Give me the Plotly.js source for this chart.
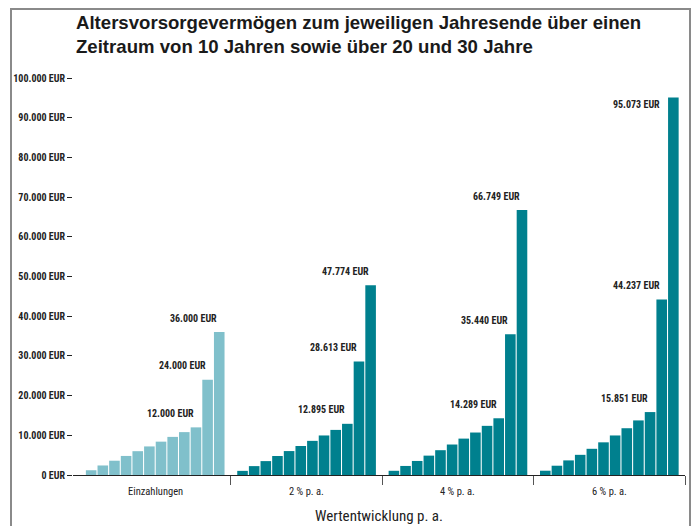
<!DOCTYPE html>
<html>
<head>
<meta charset="utf-8">
<script src="https://cdn.plot.ly/plotly-3.0.1.min.js"></script>
<style>
html,body{margin:0;padding:0;background:#fff;}
#chart{width:694px;height:526px;}
</style>
</head>
<body>
<div id="chart"></div>
<script>
// ---- data ----
var groupNames = ["Einzahlungen", "2 % p. a.", "4 % p. a.", "6 % p. a."];
var periods = ["1", "2", "3", "4", "5", "6", "7", "8", "9", "10", "20", "30"];
var einzahlungen = [1200, 2400, 3600, 4800, 6000, 7200, 8400, 9600, 10800, 12000, 24000, 36000];
var rendite2 = [1040, 2240, 3500, 4780, 6030, 7300, 8600, 9960, 11360, 12895, 28613, 47774];
var rendite4 = [1060, 2280, 3540, 4880, 6250, 7680, 9170, 10700, 12380, 14289, 35440, 66749];
var rendite6 = [1080, 2340, 3680, 5080, 6600, 8230, 9960, 11780, 13750, 15851, 44237, 95073];
var yTicks = [0, 10000, 20000, 30000, 40000, 50000, 60000, 70000, 80000, 90000, 100000];
var labelledIdx = [9, 10, 11]; // bars 10, 20 and 30 years

var series = [einzahlungen, rendite2, rendite4, rendite6];
var colors = ["#80c0cb", "#00808e"];

var GROUP = periods.length + 1;
var FONT = "'Roboto Condensed', 'Open Sans', sans-serif";

function fmt(v) {
  return String(v).replace(/\B(?=(\d{3})+(?!\d))/g, ".") + " EUR";
}
function f(size, weight) {
  return {family: FONT, size: size, color: "#222", weight: weight || "normal"};
}

var traces = [];
var annotations = [];
series.forEach(function (vals, g) {
  var xs = vals.map(function (v, i) { return g * GROUP + 1 + i; });
  traces.push({
    type: "bar",
    x: xs,
    y: vals,
    width: 0.91,
    marker: {color: g === 0 ? colors[0] : colors[1]},
    hoverinfo: "y",
    name: groupNames[g],
    showlegend: false
  });
  labelledIdx.forEach(function (i) {
    var v = vals[i];
    var atTop = v > 90000;
    annotations.push({
      x: atTop ? xs[i - 1] : xs[i],
      y: v,
      xref: "x", yref: "y",
      text: fmt(v),
      showarrow: false,
      xanchor: "right",
      yanchor: "middle",
      yshift: atTop ? -7 : 14,
      font: f(10, "bold")
    });
  });
  annotations.push({
    x: g * GROUP + GROUP / 2,
    y: 0,
    xref: "x", yref: "paper",
    text: groupNames[g],
    showarrow: false,
    xanchor: "center",
    yanchor: "middle",
    yshift: -16,
    font: f(10.5)
  });
});

annotations.push({
  x: 0.5, y: 0, xref: "paper", yref: "paper",
  text: "Wertentwicklung p. a.",
  showarrow: false,
  xanchor: "center", yanchor: "middle",
  yshift: -41,
  font: f(15)
});

// geometry (pixels -> paper coords)
var L = 73, R = 685, T = 78, B = 475.5;
function px(p) { return (p - L) / (R - L); }
function py(p) { return (B - p) / (B - T); }

annotations.push({
  x: px(74), y: py(10), xref: "paper", yref: "paper",
  text: "Altersvorsorgevermögen zum jeweiligen Jahresende über einen<br>Zeitraum von 10 Jahren sowie über 20 und 30 Jahre",
  showarrow: false, xanchor: "left", yanchor: "top", align: "left",
  font: {family: "'Liberation Sans', Arial, sans-serif", size: 18.6, color: "#1a1a1a", weight: "bold"}
});

var boundaries = [];
for (var g = 1; g <= series.length; g++) boundaries.push(g * GROUP);

var layout = {
  width: 694,
  height: 526,
  margin: {l: L, r: 694 - R, t: T, b: 526 - B},
  paper_bgcolor: "#fff",
  plot_bgcolor: "#fff",
  barmode: "overlay",
  xaxis: {
    range: [-0.56, series.length * GROUP],
    tickvals: boundaries,
    ticktext: boundaries.map(function () { return ""; }),
    ticks: "outside",
    ticklen: 9,
    tickwidth: 1,
    tickcolor: "#555",
    showline: true,
    linecolor: "#222",
    linewidth: 1,
    showgrid: false,
    zeroline: false,
    fixedrange: true
  },
  yaxis: {
    range: [0, 100000],
    tickvals: yTicks,
    ticktext: yTicks.map(fmt),
    ticks: "outside",
    ticklen: 5,
    tickwidth: 1,
    tickcolor: "#222",
    showline: false,
    showgrid: false,
    zeroline: false,
    tickfont: f(10, "bold"),
    fixedrange: true
  },
  annotations: annotations,
  shapes: [{
    type: "path",
    xref: "paper", yref: "paper",
    path: "M " + px(11) + "," + py(540) + " L " + px(11) + "," + py(9) + " L " + px(690) + "," + py(9) + " L " + px(690) + "," + py(540),
    line: {color: "#8a8a8a", width: 2}
  }]
};

Plotly.newPlot("chart", traces, layout, {displayModeBar: false, staticPlot: true});
</script>
</body>
</html>
